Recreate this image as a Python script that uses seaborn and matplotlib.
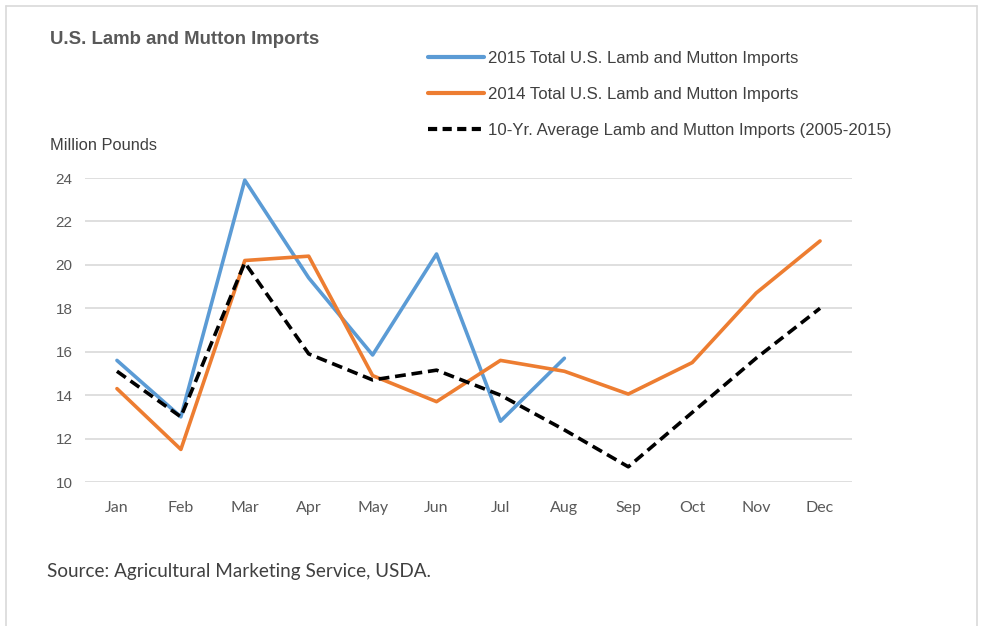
import numpy as np
import pandas as pd
import matplotlib
matplotlib.use("Agg")
import matplotlib.pyplot as plt
from matplotlib.lines import Line2D
import seaborn as sns

# Data
months = ["Jan", "Feb", "Mar", "Apr", "May", "Jun", "Jul", "Aug", "Sep", "Oct", "Nov", "Dec"]
imports_2015 = [15.6, 13.0, 23.9, 19.4, 15.85, 20.5, 12.8, 15.7]
imports_2014 = [14.3, 11.5, 20.2, 20.4, 14.9, 13.7, 15.6, 15.1, 14.05, 15.5, 18.7, 21.1]
avg_10yr = [15.1, 13.0, 20.1, 15.9, 14.7, 15.15, 14.0, 12.4, 10.7, 13.2, 15.7, 18.0]
y_ticks = [10, 12, 14, 16, 18, 20, 22, 24]

labels = ["2015 Total U.S. Lamb and Mutton Imports",
          "2014 Total U.S. Lamb and Mutton Imports",
          "10-Yr. Average Lamb and Mutton Imports (2005-2015)"]

df = pd.concat([
    pd.DataFrame({"month": range(len(imports_2015)), "value": imports_2015, "series": labels[0]}),
    pd.DataFrame({"month": range(len(imports_2014)), "value": imports_2014, "series": labels[1]}),
    pd.DataFrame({"month": range(len(avg_10yr)), "value": avg_10yr, "series": labels[2]}),
])

sns.set_theme(style="white")
plt.rcParams["font.family"] = ["Liberation Sans", "DejaVu Sans"]

colors = {labels[0]: "#5B9BD5", labels[1]: "#ED7D31", labels[2]: "black"}
dashes = {labels[0]: "", labels[1]: "", labels[2]: (3, 1.6)}

fig = plt.figure(figsize=(9.82, 6.26), dpi=100)
ax = fig.add_axes([85 / 982, 1 - 482 / 626, (852 - 85) / 982, (482 - 178) / 626])

sns.lineplot(data=df, x="month", y="value", hue="series", style="series",
             palette=colors, dashes=dashes, linewidth=2.6, ax=ax, legend=False)

ax.set_xlim(-0.5, 11.5)
ax.set_ylim(10, 24)
ax.set_yticks(y_ticks)
ax.set_xticks(range(len(months)))
ax.set_xticklabels(months, fontsize=11.5, color="#595959", family=["Lato", "DejaVu Sans"])
ax.tick_params(axis="y", labelsize=11, labelcolor="#595959", length=0, pad=9)
ax.tick_params(axis="x", length=0, pad=14)
ax.yaxis.grid(True, color="#D9D9D9", linewidth=1.2)
ax.set_axisbelow(True)
for s in ax.spines.values():
    s.set_visible(False)
ax.set_xlabel("")
ax.set_ylabel("")

# outer frame
for xs, ys in [([6, 6], [626, 6]), ([6, 977], [6, 6]), ([977, 977], [6, 626])]:
    fig.add_artist(Line2D([x / 982 for x in xs], [1 - y / 626 for y in ys],
                          color="#D9D9D9", linewidth=1.2))

fig.text(50 / 982, 1 - 40 / 626, "U.S. Lamb and Mutton Imports", fontsize=13.4,
         fontweight="bold", color="#595959", va="center", ha="left")
fig.text(50 / 982, 1 - 145 / 626, "Million Pounds", fontsize=11.8,
         color="#404040", va="center", ha="left")
fig.text(47 / 982, 1 - 572 / 626, "Source: Agricultural Marketing Service, USDA.",
         fontsize=13.6, color="#404040", va="center", ha="left",
         family=["Lato", "DejaVu Sans"])

handles = [Line2D([], [], color=colors[l], linewidth=3,
                  linestyle=(0, (2.2, 1.3)) if l == labels[2] else "-") for l in labels]
fig.legend(handles, labels, loc="upper left", bbox_to_anchor=(413 / 982, 1 - 36 / 626),
           frameon=False, fontsize=12.1, handlelength=3.3, handletextpad=0.25,
           labelspacing=1.24, labelcolor="#404040")

fig.savefig("out.png", dpi=100)
